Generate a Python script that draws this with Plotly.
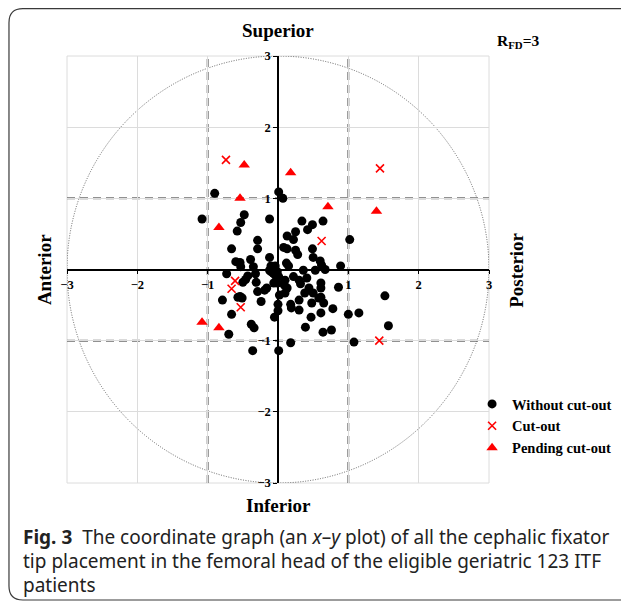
import plotly.graph_objects as go

# ---------------- data ----------------
black_x = [-0.90, 0.01, 0.07, -1.08, -0.48, -0.53, -0.58, -0.12, 0.34, 0.49, 0.42, 0.64, 0.25, 0.13, 0.22,
           -0.29, 1.02, -0.29, -0.66, 0.08, 0.13, 0.25, 0.28, 0.49, 0.50, -0.12, -0.39, -0.60, -0.54, -0.35,
           -0.53, -0.10, -0.04, -0.06, -0.01, -0.10, -0.07, -0.04, -0.12, 0.15, 0.12, 0.36, 0.53, 0.62, 0.67,
           0.60, 0.89, -0.43, -0.46, -0.32, -0.50, -0.73, -0.31, 0.01, -0.06, -0.01, 0.09, 0.13, 0.22, 0.32,
           0.41, 0.44, 0.61, 0.61, 0.86, -0.16, -0.19, -0.29, 0.10, 0.38, 0.50, 0.61, 0.65, -0.54, -0.57,
           -0.51, -0.79, -0.24, 0.18, 0.48, 0.00, 0.00, -0.05, -0.66, 0.30, 0.61, 0.47, 0.78, 1.00, 1.15,
           -0.38, -0.34, -0.70, 0.39, 0.64, 0.76, 1.52, 1.57, 1.08, 0.18, 0.01, -0.36, 0.30, 0.10, 0.58,
           0.30, 0.19, 0.02]
black_y = [1.07, 1.09, 1.00, 0.71, 0.77, 0.66, 0.54, 0.71, 0.68, 0.63, 0.56, 0.68, 0.53, 0.47, 0.42,
           0.41, 0.42, 0.29, 0.29, 0.31, 0.29, 0.27, 0.21, 0.29, 0.17, 0.17, 0.14, 0.11, 0.10, 0.04,
           0.04, 0.05, 0.05, 0.02, -0.03, -0.03, -0.05, -0.08, -0.01, 0.05, 0.09, -0.01, -0.01, 0.06, 0.00,
           0.12, 0.05, -0.09, -0.14, -0.06, -0.18, -0.06, -0.18, -0.10, -0.19, -0.19, -0.22, -0.26, -0.10, -0.20,
           -0.12, -0.26, -0.19, -0.26, -0.25, -0.26, -0.29, -0.31, -0.33, -0.33, -0.33, -0.39, -0.47, -0.38, -0.39,
           -0.40, -0.43, -0.45, -0.49, -0.47, -0.49, -0.58, -0.67, -0.63, -0.57, -0.61, -0.67, -0.55, -0.63, -0.61,
           -0.77, -0.82, -0.91, -0.81, -0.88, -0.85, -0.37, -0.79, -1.02, -1.03, -1.14, -1.14, -0.15, -0.15, -0.40,
           -0.43, -0.54, -0.36]

cut_x = [-0.74, 1.45, 0.62, -0.61, -0.66, -0.53, 1.44]
cut_y = [1.54, 1.42, 0.40, -0.16, -0.27, -0.53, -1.00]

pend_x = [-0.48, 0.18, -0.54, -0.84, 0.71, 1.40, -1.08, -0.84]
pend_y = [1.47, 1.36, 1.00, 0.59, 0.88, 0.82, -0.74, -0.82]

tick_vals = [-3, -2, -1, 1, 2, 3]
tick_labels = ["−3", "−2", "−1", "1", "2", "3"]
guide_vals = [-1, 1]
radius = 3

# ---------------- geometry (page has an 8px body margin) ----------------
OFF = 8
W, H = 621, 596
L, R, T, B = 59, 138, 48, 121
PW, PH = W - L - R, H - T - B


def px(x):  # screenshot x -> paper
    return (x - OFF - L) / PW


def py(y):  # screenshot y -> paper
    return (H - B - (y - OFF)) / PH


SERIF = "Liberation Serif"

fig = go.Figure()
fig.add_trace(go.Scatter(x=black_x, y=black_y, mode="markers", name="<b>Without cut-out</b>",
                         marker=dict(symbol="circle", size=9, color="black")))
fig.add_trace(go.Scatter(x=cut_x, y=cut_y, mode="markers", name="<b>Cut-out</b>",
                         marker=dict(symbol="x-thin", size=8, color="red",
                                     line=dict(color="red", width=1.6))))
fig.add_trace(go.Scatter(x=pend_x, y=pend_y, mode="markers", name="<b>Pending cut-out</b>",
                         marker=dict(symbol="triangle-up", size=10, color="red")))

ticktext = ["<b>%s</b>" % t for t in tick_labels]
axis_common = dict(range=[-radius, radius], tickvals=tick_vals, ticktext=ticktext,
                   showgrid=True, gridcolor="#dcdcdc", gridwidth=1, zeroline=False,
                   showline=True, linecolor="black", linewidth=1.5,
                   ticks="outside", ticklen=4, tickcolor="black", tickwidth=1.2,
                   tickfont=dict(family=SERIF, size=12.5, color="black"),
                   anchor="free", position=0.5, fixedrange=True)
fig.update_layout(
    width=W, height=H, margin=dict(l=L, r=R, t=T, b=B),
    paper_bgcolor="white", plot_bgcolor="white",
    xaxis=dict(**axis_common),
    yaxis=dict(**axis_common),
    showlegend=True,
    legend=dict(x=px(474), y=py(388), xanchor="left", yanchor="top",
                font=dict(family=SERIF, size=14.5, color="black"),
                bgcolor="rgba(0,0,0,0)", itemwidth=30, tracegroupgap=0),
)

# plot border
fig.add_shape(type="rect", xref="paper", yref="paper", x0=0, y0=0, x1=1, y1=1,
              line=dict(color="#dcdcdc", width=1), layer="below")
# dashed guide lines
for v in guide_vals:
    fig.add_shape(type="line", x0=v, x1=v, y0=-radius, y1=radius,
                  line=dict(color="#6e6e6e", width=2, dash="8px,5px"), layer="below")
    fig.add_shape(type="line", y0=v, y1=v, x0=-radius, x1=radius,
                  line=dict(color="#6e6e6e", width=2, dash="8px,5px"), layer="below")
# dotted circle
fig.add_shape(type="circle", x0=-radius, y0=-radius, x1=radius, y1=radius,
              line=dict(color="#555555", width=0.9, dash="1px,1.5px"), layer="below")

# outer rounded frame
xl, xr_, yt, yb, r = px(8.7), px(660), py(8.7), py(600), 14
rx, ry = r / PW, r / PH
path = (f"M {xr_},{yt} L {xl + rx},{yt} Q {xl},{yt} {xl},{yt - ry} "
        f"L {xl},{yb + ry} Q {xl},{yb} {xl + rx},{yb} L {xr_},{yb}")
fig.add_shape(type="path", xref="paper", yref="paper", path=path,
              line=dict(color="#3a3a3a", width=1.2))

# direction titles
title_font = dict(family=SERIF, size=19, color="black")
common = dict(xref="paper", yref="paper", showarrow=False, xanchor="center", yanchor="middle")
fig.add_annotation(text="<b>Superior</b>", x=px(279), y=py(31), font=title_font, **common)
fig.add_annotation(text="<b>Inferior</b>", x=px(279), y=py(505), font=title_font, **common)
fig.add_annotation(text="<b>Anterior</b>", x=px(44), y=py(270), font=title_font, textangle=-90, **common)
fig.add_annotation(text="<b>Posterior</b>", x=px(518), y=py(270), font=title_font, textangle=-90, **common)
fig.add_annotation(text="<b>R<sub>FD</sub>=3</b>", x=px(521), y=py(42),
                   font=dict(family=SERIF, size=15.5, color="black"), **common)

# caption
cap_font = dict(family="Noto Sans", size=19, color="#222222")
caption_lines = ["<b>Fig. 3</b>  The coordinate graph (an <i>x</i>–<i>y</i> plot) of all the cephalic fixator",
                 "tip placement in the femoral head of the eligible geriatric 123 ITF",
                 "patients"]
for i, line in enumerate(caption_lines):
    fig.add_annotation(text=line, xref="paper", yref="paper", x=px(21), y=py(537 + 24 * i),
                       xanchor="left", yanchor="middle", showarrow=False, font=cap_font, align="left")

fig.write_html("out.html")
